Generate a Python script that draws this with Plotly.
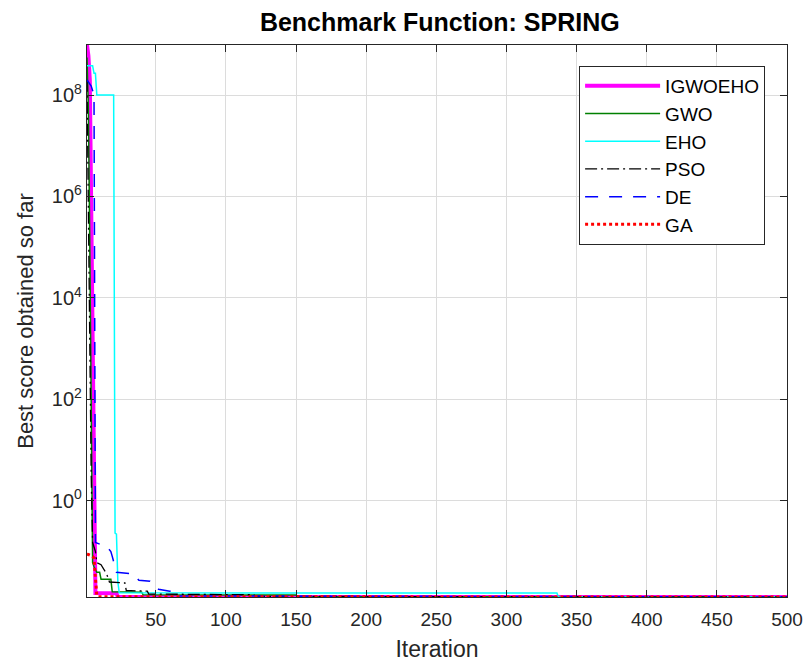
import plotly.graph_objects as go
import math

# ---- data ----
igwoeho_it = [1, 2, 3, 4, 5, 6, 7, 22, 23, 500]
igwoeho_val = [9.7e8, 6e8, 2e8, 2.5e5, 3e2, 0.4, 0.0152, 0.0150, 0.01275, 0.012665]

gwo_it = [1, 2, 3, 4, 5, 6, 8, 10, 11, 18, 19, 40, 41, 150, 151, 500]
gwo_val = [5.5e8, 5e7, 1e5, 2e2, 0.06, 0.05, 0.039, 0.039, 0.0285, 0.0285, 0.016, 0.0158, 0.0140, 0.0138, 0.0130, 0.01268]

eho_it = [1, 5, 6, 7, 8, 20, 21, 22, 23, 24, 336, 337, 500]
eho_val = [3.8e8, 3.8e8, 2.7e8, 2.7e8, 1e8, 1e8, 0.23, 0.22, 0.025, 0.0153, 0.0152, 0.01268, 0.012665]

pso_it = [1, 2, 3, 4, 5, 7, 8, 11, 15, 17, 28, 29, 44, 45, 120, 121, 500]
pso_val = [2e8, 2e5, 1e3, 3, 0.15, 0.1, 0.06, 0.055, 0.036, 0.025, 0.024, 0.017, 0.0165, 0.0145, 0.014, 0.0130, 0.01268]

de_it = [1, 4, 6, 7, 15, 18, 19, 22, 34, 38, 46, 52, 60, 66, 67, 500]
de_val = [2e8, 1.5e8, 1e8, 0.15, 0.125, 0.1, 0.08, 0.039, 0.036, 0.027, 0.026, 0.018, 0.0165, 0.0155, 0.0133, 0.01268]

ga_it = [1, 2, 5, 6, 7, 8, 9, 500]
ga_val = [0.088, 0.087, 0.08, 0.075, 0.03, 0.0135, 0.0128, 0.012665]

x_ticks = [50, 100, 150, 200, 250, 300, 350, 400, 450, 500]
y_ticks = [1, 1e2, 1e4, 1e6, 1e8]
y_ticktext = ["10<sup>0</sup>", "10<sup>2</sup>", "10<sup>4</sup>", "10<sup>6</sup>", "10<sup>8</sup>"]

series = [
    ("IGWOEHO", igwoeho_it, igwoeho_val, "#FF00FF", 4, "solid"),
    ("GWO", gwo_it, gwo_val, "#008000", 1.5, "solid"),
    ("EHO", eho_it, eho_val, "#00FFFF", 1.5, "solid"),
    ("PSO", pso_it, pso_val, "#000000", 1.3, "12px,4px,2px,4px"),
    ("DE", de_it, de_val, "#0000FF", 1.5, "13px,11px"),
    ("GA", ga_it, ga_val, "#FF0000", 3, "3px,3px"),
]

fig = go.Figure()
for name, xs, ys, col, w, dash in series:
    fig.add_trace(go.Scatter(x=xs, y=ys, mode="lines", name=name,
                             line=dict(color=col, width=w, dash=dash)))

axcol = "#262626"
font_fam = "Arial, Liberation Sans, Helvetica, sans-serif"
fig.update_layout(
    width=804, height=662,
    margin=dict(l=87, r=17, t=45, b=65, autoexpand=False),
    paper_bgcolor="white", plot_bgcolor="white",
    font=dict(family=font_fam, color=axcol, size=18),
    title=dict(text="<b>Benchmark Function: SPRING</b>", x=0.547, xanchor="center",
               y=1 - 22 / 662, yanchor="middle", font=dict(size=25, color="black", family=font_fam)),
    legend=dict(x=0.703, y=0.962, xanchor="left", yanchor="top",
                bgcolor="white", bordercolor=axcol, borderwidth=1,
                itemwidth=75, entrywidth=110, entrywidthmode="pixels",
                font=dict(size=19, color="black", family=font_fam)),
    showlegend=True,
)
fig.update_xaxes(range=[1, 500], tickvals=x_ticks, ticks="inside", ticklen=7,
                 tickcolor=axcol, showline=True, linecolor=axcol, linewidth=1.2,
                 mirror="ticks", showgrid=True, gridcolor="#DCDCDC", gridwidth=1,
                 zeroline=False, tickfont=dict(size=19), ticklabeloverflow="allow",
                 automargin=False, ticklabelstandoff=5,
                 title=dict(text="Iteration", font=dict(size=23), standoff=16))
fig.update_yaxes(type="log", range=[math.log10(0.012665), 8.987],
                 tickvals=y_ticks, ticktext=y_ticktext, ticks="inside", ticklen=7,
                 tickcolor=axcol, showline=True, linecolor=axcol, linewidth=1.2,
                 mirror="ticks", showgrid=True, gridcolor="#DCDCDC", gridwidth=1,
                 zeroline=False, tickfont=dict(size=20), automargin=False,
                 title=dict(text="Best score obtained so far", font=dict(size=22), standoff=12))

fig.write_html("out.html")
